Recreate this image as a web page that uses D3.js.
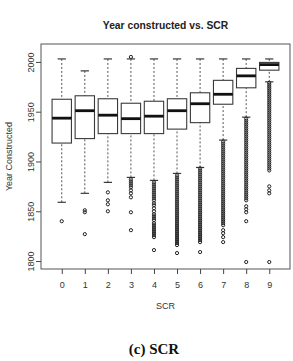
<!DOCTYPE html>
<html>
<head>
<meta charset="utf-8">
<script src="https://cdn.jsdelivr.net/npm/d3@7"></script>
<style>
  html, body { margin: 0; padding: 0; background: #fff; }
  svg { display: block; }
</style>
</head>
<body>
<svg id="chart" width="293" height="361"></svg>
<script>
// ---- data ----
const categories = ["0","1","2","3","4","5","6","7","8","9"];
const whiskerLo = [1859, 1868, 1879, 1884, 1881, 1888, 1894, 1921.5, 1944.5, 1980];
const q1        = [1918.5, 1923, 1928, 1928, 1928, 1932.5, 1939, 1957.5, 1974, 1991.7];
const median    = [1943.5, 1951, 1946.5, 1943, 1945.5, 1951, 1958, 1967.5, 1986, 1997.3];
const q3        = [1962.5, 1966, 1963, 1958.5, 1960.5, 1963, 1969, 1981.5, 1993.5, 1999.5];
const whiskerHi = [2003, 1991, 2003, 2003, 2003, 2003, 2003, 2003, 2003, 2003];
const outliers = [
  [1840],
  [1851, 1849, 1827],
  [1869, 1861, 1857, 1850],
  [2005, 1882, 1880, 1878, 1876, 1874, 1871, 1868, 1864, 1849, 1831],
  [1879,1877,1875,1873,1871,1869,1867,1865,1863,1861,1858,1856,1853,1850,1847,1845,1843,1841,1838,1836,1834,1832,1830,1828,1826,1824,1811],
  [1886,1884,1882,1880,1878,1876,1874,1872,1870,1868,1866,1864,1862,1860,1858,1856,1854,1852,1850,1848,1846,1844,1842,1840,1838,1836,1834,1832,1830,1828,1826,1824,1822,1820,1818,1816,1808],
  [1893,1891,1889,1887,1885,1883,1881,1879,1877,1875,1873,1871,1869,1867,1865,1863,1861,1859,1857,1855,1853,1851,1849,1847,1845,1843,1841,1839,1837,1835,1833,1831,1829,1827,1825,1823,1821,1819,1809],
  [1920,1918,1916,1914,1912,1910,1908,1906,1904,1902,1900,1898,1896,1894,1892,1890,1888,1886,1884,1882,1880,1878,1876,1874,1872,1870,1868,1866,1864,1862,1860,1858,1856,1854,1852,1850,1848,1846,1844,1842,1840,1838,1836,1831,1828,1824,1819],
  [1943,1941,1939,1937,1935,1933,1931,1929,1927,1925,1923,1921,1919,1917,1915,1913,1911,1909,1907,1905,1903,1901,1899,1897,1895,1893,1891,1889,1887,1885,1883,1881,1879,1877,1875,1873,1871,1869,1867,1865,1863,1861,1855,1852,1849,1840,1799],
  [1979,1977,1975,1973,1971,1969,1967,1965,1963,1961,1959,1957,1955,1953,1951,1949,1947,1945,1943,1941,1939,1937,1935,1933,1931,1929,1927,1925,1923,1921,1919,1917,1915,1913,1911,1909,1907,1905,1903,1901,1899,1897,1895,1893,1891,1875,1871,1868,1799]
];
const yTicks = [1800, 1850, 1900, 1950, 2000];
const titleText = "Year constructed vs. SCR";
const xTitle = "SCR";
const yTitle = "Year Constructed";
const caption = "(c) SCR";

// ---- layout ----
const svg = d3.select("#chart");
const plot = { left: 41, right: 290, top: 44, bottom: 269 };
const x = d3.scaleLinear().domain([-0.9, 9.9]).range([plot.left, plot.right]);
const y = d3.scaleLinear().domain([1792, 2018]).range([plot.bottom, plot.top]);
const boxHalf = 0.42, capHalf = 0.18;
const ink = "#3a3a3a";
const font = "'Liberation Sans', Arial, sans-serif";

const data = categories.map((c, i) => ({
  c, i, lo: whiskerLo[i], q1: q1[i], med: median[i], q3: q3[i], hi: whiskerHi[i], out: outliers[i]
}));

const g = svg.append("g");

// whiskers (dashed)
g.selectAll(".wl").data(data).join("line")
  .attr("x1", d => x(d.i)).attr("x2", d => x(d.i))
  .attr("y1", d => y(d.lo)).attr("y2", d => y(d.q1))
  .attr("stroke", "#555").attr("stroke-width", 1).attr("stroke-dasharray", "2,2");
g.selectAll(".wh").data(data).join("line")
  .attr("x1", d => x(d.i)).attr("x2", d => x(d.i))
  .attr("y1", d => y(d.hi)).attr("y2", d => y(d.q3))
  .attr("stroke", "#555").attr("stroke-width", 1).attr("stroke-dasharray", "2,2");
// caps
["lo", "hi"].forEach(k => {
  g.selectAll(".cap" + k).data(data).join("line")
    .attr("x1", d => x(d.i - capHalf)).attr("x2", d => x(d.i + capHalf))
    .attr("y1", d => y(d[k])).attr("y2", d => y(d[k]))
    .attr("stroke", ink).attr("stroke-width", 1.2);
});
// boxes
g.selectAll(".box").data(data).join("rect")
  .attr("x", d => x(d.i - boxHalf)).attr("width", d => x(d.i + boxHalf) - x(d.i - boxHalf))
  .attr("y", d => y(d.q3)).attr("height", d => y(d.q1) - y(d.q3))
  .attr("fill", "#fff").attr("stroke", ink).attr("stroke-width", 1.1);
// medians
g.selectAll(".med").data(data).join("line")
  .attr("x1", d => x(d.i - boxHalf)).attr("x2", d => x(d.i + boxHalf))
  .attr("y1", d => y(d.med)).attr("y2", d => y(d.med))
  .attr("stroke", "#111").attr("stroke-width", 2.8);
// outliers
data.forEach(d => {
  g.selectAll(null).data(d.out).join("circle")
    .attr("cx", x(d.i)).attr("cy", v => y(v)).attr("r", 1.6)
    .attr("fill", "none").attr("stroke", "#222").attr("stroke-width", 1);
});

// frame
svg.append("rect")
  .attr("x", plot.left).attr("y", plot.top)
  .attr("width", plot.right - plot.left).attr("height", plot.bottom - plot.top)
  .attr("fill", "none").attr("stroke", "#555").attr("stroke-width", 1);

// axes
const xAxis = d3.axisBottom(x).tickValues(d3.range(categories.length))
  .tickFormat(i => categories[i]).tickSize(5).tickPadding(8);
const xg = svg.append("g").attr("transform", `translate(0,${plot.bottom})`).call(xAxis);
xg.select(".domain").remove();
xg.selectAll("line").attr("stroke", "#444");
xg.selectAll("text").attr("font-family", font).attr("font-size", 9).attr("fill", "#333");

const yAxis = d3.axisLeft(y).tickValues(yTicks).tickFormat(d3.format("d")).tickSize(5).tickPadding(3);
const yg = svg.append("g").attr("transform", `translate(${plot.left},0)`).call(yAxis);
yg.select(".domain").remove();
yg.selectAll("line").attr("stroke", "#444");
yg.selectAll("text")
  .attr("font-family", font).attr("font-size", 9).attr("fill", "#333")
  .attr("x", null).attr("dy", null)
  .attr("text-anchor", "middle")
  .attr("transform", "translate(-7,0) rotate(-90)");

// titles
svg.append("text").attr("x", (plot.left + plot.right) / 2).attr("y", 29)
  .attr("text-anchor", "middle").attr("font-family", font).attr("font-weight", "bold")
  .attr("font-size", 10.3).attr("fill", "#222").text(titleText);
svg.append("text").attr("x", (plot.left + plot.right) / 2).attr("y", 309)
  .attr("text-anchor", "middle").attr("font-family", font)
  .attr("font-size", 9).attr("fill", "#333").text(xTitle);
svg.append("text").attr("transform", `translate(12,${(plot.top + plot.bottom) / 2}) rotate(-90)`)
  .attr("text-anchor", "middle").attr("font-family", font)
  .attr("font-size", 9).attr("fill", "#333").text(yTitle);
svg.append("text").attr("x", 154).attr("y", 354)
  .attr("text-anchor", "middle").attr("font-family", "'Liberation Serif', 'Times New Roman', serif")
  .attr("font-weight", "bold").attr("font-size", 15).attr("fill", "#111").text(caption);
</script>
</body>
</html>
